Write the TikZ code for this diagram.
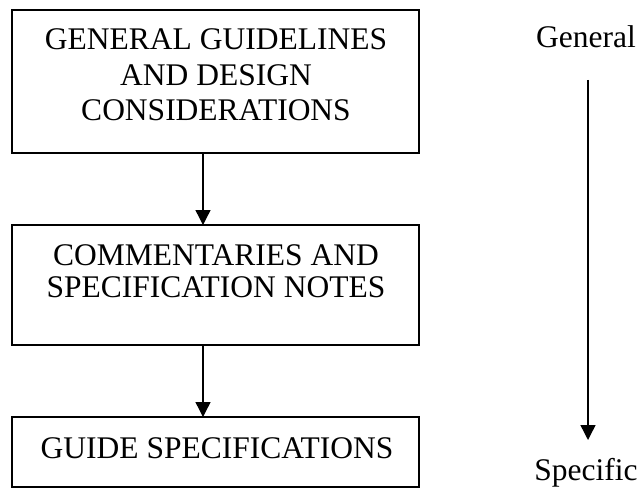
\documentclass[tikz,border=0pt]{standalone}
\usepackage{fontspec}
\setmainfont{Liberation Serif}
\usetikzlibrary{arrows.meta}
\begin{document}
\begin{tikzpicture}[x=1pt,y=-1pt,
  box/.style={draw,line width=1.4pt,minimum width=407pt,inner sep=0pt,outer sep=0pt},
  txt/.style={anchor=base,inner sep=0pt,font=\fontsize{31.5}{36}\selectfont},
  conn/.style={line width=1.4pt,-{Triangle[width=15pt,length=15pt]}}]
\useasboundingbox (0,0) rectangle (639,489);
\node[box,minimum height=143pt] (top) at (215.5,81.5) {};
\node[box,minimum height=120pt] (mid) at (215.5,285) {};
\node[box,minimum height=70pt] (bot) at (215.5,452) {};
\node[txt] (t1) at (216,50) {GENERAL GUIDELINES};
\node[txt] (t2) at (216,85.5) {AND DESIGN};
\node[txt] (t3) at (216,121) {CONSIDERATIONS};
\node[txt] (m1) at (216,265) {COMMENTARIES AND};
\node[txt] (m2) at (216,297) {SPECIFICATION NOTES};
\node[txt] (b1) at (217,458) {GUIDE SPECIFICATIONS};
\coordinate (ax) at (203,0);
\draw[conn] (ax |- top.south) -- (ax |- mid.north);
\draw[conn] (ax |- mid.south) -- (ax |- bot.north);
\node[txt] (gen) at (586,48) {General};
\node[txt] (spec) at (586,480) {Specific};
\coordinate (rs) at (588,80);
\coordinate (re) at (588,440);
\draw[conn] (rs) -- (re);
\end{tikzpicture}
\end{document}
